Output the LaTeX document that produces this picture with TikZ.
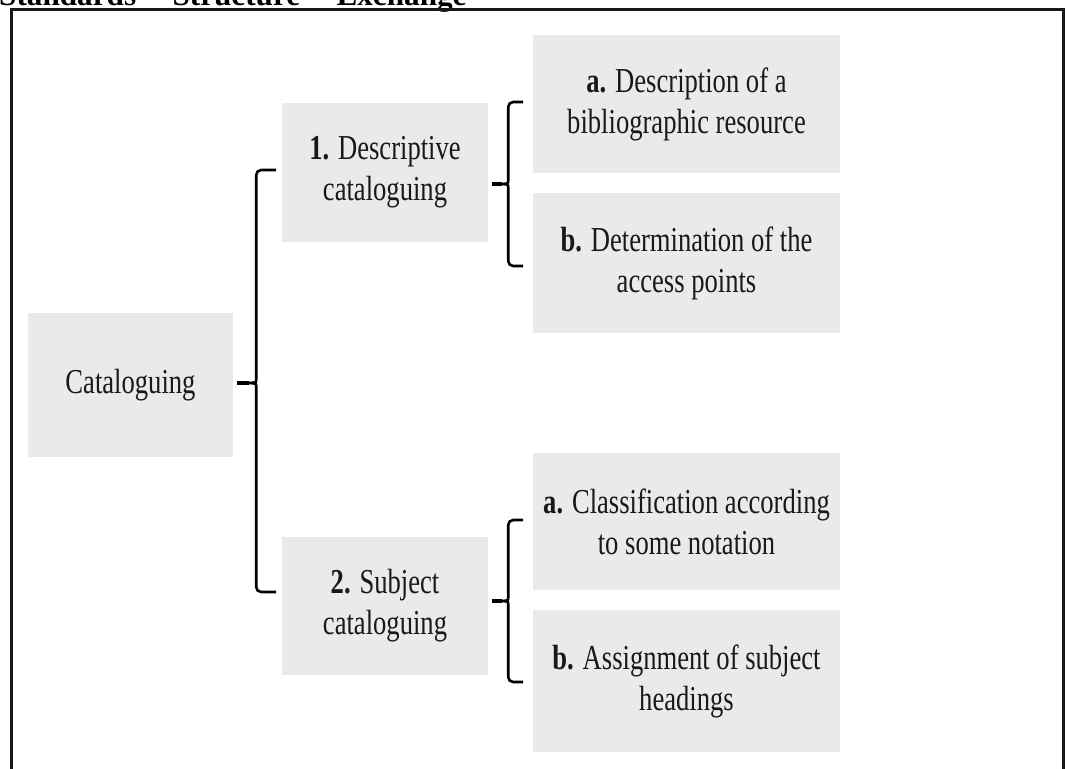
\documentclass[tikz,border=0pt]{standalone}
\usepackage{fontspec}
\setmainfont{Liberation Serif}[FakeStretch=0.76]
\newfontfamily\headfont{Liberation Serif}
\usetikzlibrary{calc}

\definecolor{boxgray}{RGB}{234,234,234}
\definecolor{inkdark}{RGB}{25,25,25}

\tikzset{
  item/.style={fill=boxgray, draw=none, align=center, inner sep=4pt,
    font=\fontsize{35}{41}\selectfont, text=inkdark},
  brk/.style={draw=black, line width=2.6pt, rounded corners=5pt},
  frame/.style={draw=inkdark, line width=3pt},
}

\begin{document}
\begin{tikzpicture}[x=1pt, y=-1pt]
  \useasboundingbox (0,0) rectangle (1067,768);
  \clip (0,0) rectangle (1067,768);
  \fill[white] (0,0) rectangle (1067,768);

  % running head above the figure frame
  \node[anchor=base west, inner sep=0pt, font=\headfont\bfseries\fontsize{31.2}{38}\selectfont]
    (head) at (-1,6) {Standards -- Structure -- Exchange};

  % outer frame (open at the bottom)
  \draw[frame] (11,800) |- (1063,9.5) -- (1063,800);

  % boxes
  \node[item, minimum width=205pt, minimum height=144pt] (cat)  at (130.5,385) {Cataloguing};
  \node[item, minimum width=206pt, minimum height=139pt] (desc) at (385,172.5) {\textbf{1.} Descriptive\\cataloguing};
  \node[item, minimum width=206pt, minimum height=138pt] (subj) at (385,606) {\textbf{2.} Subject\\cataloguing};
  \node[item, minimum width=307pt, minimum height=138pt] (da) at (686.5,104) {\textbf{a.} Description of a\\bibliographic resource};
  \node[item, minimum width=307pt, minimum height=140pt] (db) at (686.5,263) {\textbf{b.} Determination of the\\access points};
  \node[item, minimum width=307pt, minimum height=137pt] (sa) at (686.5,521.5) {\textbf{a.} Classification according\\to some notation};
  \node[item, minimum width=307pt, minimum height=142pt] (sb) at (686.5,681) {\textbf{b.} Assignment of subject\\headings};

  % brace tips, just off the right side of each parent box
  \coordinate (t0) at ($(cat.east)+(4,-2)$);
  \coordinate (t1) at ($(desc.east)+(4,11.5)$);
  \coordinate (t2) at ($(subj.east)+(4,-5)$);

  % Cataloguing -> 1 and 2
  \draw[brk] (t0) .. controls +(19,0) .. +(19,-8) -- +(19,-213) -- +(39,-213);
  \draw[brk] (t0) .. controls +(19,0) .. +(19,8) -- +(19,209) -- +(39,209);
  \draw[line width=3.4pt] (t0) -- +(12,0);

  % 1. Descriptive cataloguing -> a and b
  \draw[brk] (t1) .. controls +(16,0) .. +(16,-8) -- +(16,-82) -- +(31,-82);
  \draw[brk] (t1) .. controls +(16,0) .. +(16,8) -- +(16,82) -- +(31,82);
  \draw[line width=3.4pt] (t1) -- +(10,0);

  % 2. Subject cataloguing -> a and b
  \draw[brk] (t2) .. controls +(16,0) .. +(16,-8) -- +(16,-81) -- +(31,-81);
  \draw[brk] (t2) .. controls +(16,0) .. +(16,8) -- +(16,81) -- +(31,81);
  \draw[line width=3.4pt] (t2) -- +(10,0);
\end{tikzpicture}
\end{document}
